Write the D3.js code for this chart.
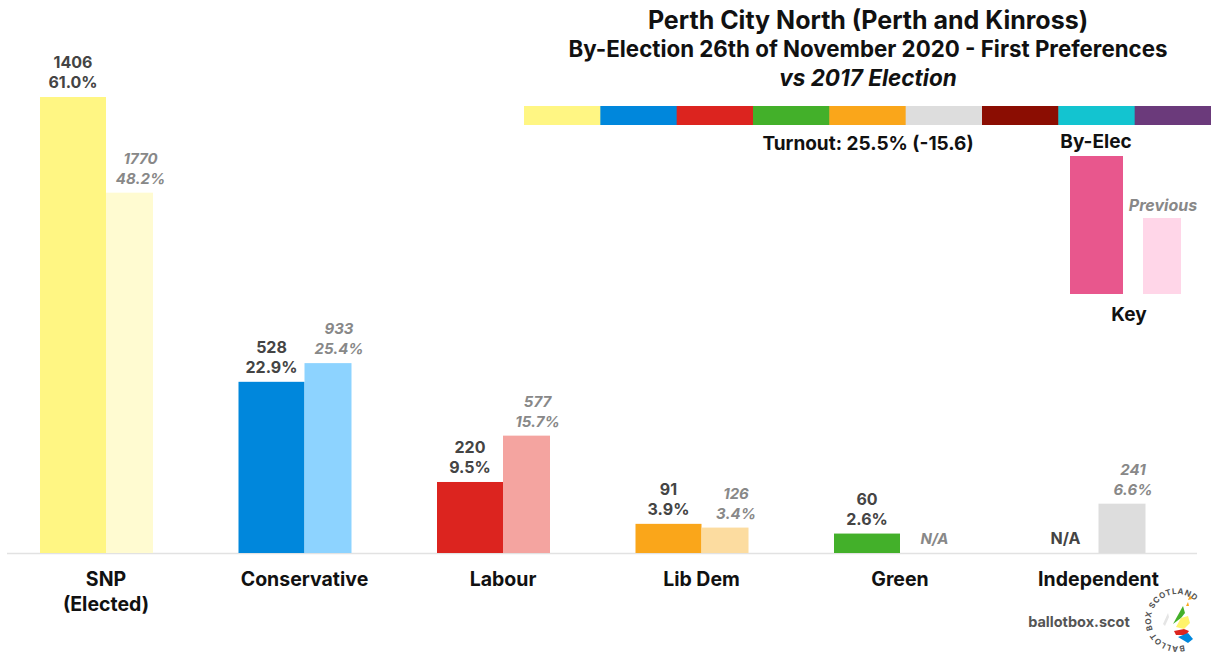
<!DOCTYPE html>
<html>
<head>
<meta charset="utf-8">
<script src="https://cdn.jsdelivr.net/npm/d3@7"></script>
<style>
  body { margin: 0; background: #fff; }
  svg { display: block; }
</style>
</head>
<body>
<svg id="chart" width="1211" height="657"></svg>
<script>
const parties = ["SNP", "Conservative", "Labour", "Lib Dem", "Green", "Independent"];
const byVotes = [1406, 528, 220, 91, 60, null];
const byPct = [61.0, 22.9, 9.5, 3.9, 2.6, null];
const prevVotes = [1770, 933, 577, 126, null, 241];
const prevPct = [48.2, 25.4, 15.7, 3.4, null, 6.6];
const byColours = ["#FFF683", "#0087DC", "#DC241F", "#FAA61A", "#43B02A", "#DDDDDD"];
const prevColours = ["#FFFBD1", "#8DD3FF", "#F4A4A0", "#FCDCA0", "#C6E8BE", "#DDDDDD"];
const stripColours = ["#FFF683", "#0087DC", "#DC241F", "#43B02A", "#FAA61A", "#DDDDDD", "#8B0D02", "#13C4D0", "#6B3A7B"];

const titleFont = "Inter, Roboto, sans-serif";
const labelFont = "Inter, 'Open Sans', sans-serif";

const svg = d3.select("#chart");

const rows = parties.map((p, i) => ({
    party: p, byV: byVotes[i], byP: byPct[i], prevV: prevVotes[i], prevP: prevPct[i],
    col: byColours[i], prevCol: prevColours[i]
}));

const xScale = d3.scaleBand()
    .domain(parties)
    .range([40, 40 + 198.5 * parties.length])
    .padding(0);
const yScale = d3.scaleLinear()
    .domain([0, 61])
    .range([553, 97]);

const byWidth = 66, prevWidth = 47;

// baseline
svg.append("line")
    .attr("x1", 7).attr("x2", 1197)
    .attr("y1", yScale(0) + 0.5).attr("y2", yScale(0) + 0.5)
    .attr("stroke", "#e2e2e2").attr("stroke-width", 1.5);

const groups = svg.selectAll(".party")
    .data(rows)
    .join("g")
    .attr("class", "party")
    .attr("transform", d => `translate(${xScale(d.party)},0)`);

groups.filter(d => d.byP !== null).append("rect")
    .attr("x", 0)
    .attr("width", byWidth)
    .attr("y", d => yScale(d.byP))
    .attr("height", d => yScale(0) - yScale(d.byP))
    .attr("fill", d => d.col);

groups.filter(d => d.prevP !== null).append("rect")
    .attr("x", byWidth)
    .attr("width", prevWidth)
    .attr("y", d => yScale(d.prevP))
    .attr("height", d => yScale(0) - yScale(d.prevP))
    .attr("fill", d => d.prevCol);

// by-election labels
const byLab = groups.append("text")
    .attr("text-anchor", "middle")
    .attr("font-family", labelFont)
    .attr("font-weight", 700)
    .attr("font-size", 16)
    .attr("fill", "#444");
byLab.filter(d => d.byP !== null).each(function(d) {
    const t = d3.select(this);
    const top = yScale(d.byP);
    t.append("tspan").attr("x", byWidth / 2).attr("y", top - 29).text(d.byV);
    t.append("tspan").attr("x", byWidth / 2).attr("y", top - 9).text(d.byP.toFixed(1) + "%");
});
byLab.filter(d => d.byP === null)
    .attr("x", byWidth / 2)
    .attr("y", yScale(0) - 9)
    .text("N/A");

// previous labels, nudged right of the bar centre as in the original
const prevX = byWidth + prevWidth / 2 + 11;
const prevLab = groups.append("text")
    .attr("text-anchor", "middle")
    .attr("font-family", labelFont)
    .attr("font-weight", 700)
    .attr("font-style", "italic")
    .attr("font-size", 15)
    .attr("fill", "#888");
prevLab.filter(d => d.prevP !== null).each(function(d) {
    const t = d3.select(this);
    const top = yScale(d.prevP);
    t.append("tspan").attr("x", prevX).attr("y", top - 29).text(d.prevV);
    t.append("tspan").attr("x", prevX).attr("y", top - 9).text(d.prevP.toFixed(1) + "%");
});
prevLab.filter(d => d.prevP === null)
    .attr("x", prevX)
    .attr("y", yScale(0) - 9)
    .text("N/A");

// category labels
const catLab = groups.append("text")
    .attr("text-anchor", "middle")
    .attr("font-family", labelFont)
    .attr("font-weight", 700)
    .attr("font-size", 19.5)
    .attr("fill", "#111");
catLab.append("tspan").attr("x", byWidth).attr("y", 586).text(d => d.party);
catLab.filter(d => d.party === "SNP")
    .append("tspan").attr("x", byWidth).attr("y", 611).text("(Elected)");

// titles
const titles = [
    { text: "Perth City North (Perth and Kinross)", y: 29, size: 25, style: "normal" },
    { text: "By-Election 26th of November 2020 - First Preferences", y: 57, size: 22.3, style: "normal" },
    { text: "vs 2017 Election", y: 86, size: 22.5, style: "italic" }
];
svg.selectAll(".title")
    .data(titles)
    .join("text")
    .attr("class", "title")
    .attr("x", 868)
    .attr("y", d => d.y)
    .attr("text-anchor", "middle")
    .attr("font-family", titleFont)
    .attr("font-weight", 700)
    .attr("font-size", d => d.size)
    .attr("font-style", d => d.style)
    .attr("fill", "#111")
    .text(d => d.text);

// colour strip
const stripX = d3.scaleBand()
    .domain(d3.range(stripColours.length))
    .range([524, 1211]);
svg.selectAll(".strip")
    .data(stripColours)
    .join("rect")
    .attr("class", "strip")
    .attr("x", (d, i) => stripX(i))
    .attr("y", 106)
    .attr("width", stripX.bandwidth() + 0.5)
    .attr("height", 19)
    .attr("fill", d => d);

svg.append("text")
    .attr("x", 868).attr("y", 150)
    .attr("text-anchor", "middle")
    .attr("font-family", titleFont)
    .attr("font-weight", 700)
    .attr("font-size", 19)
    .attr("fill", "#111")
    .text("Turnout: 25.5% (-15.6)");

// key
const key = svg.append("g");
key.append("text")
    .attr("x", 1096).attr("y", 148)
    .attr("text-anchor", "middle")
    .attr("font-family", titleFont)
    .attr("font-weight", 700)
    .attr("font-size", 19)
    .attr("fill", "#111")
    .text("By-Elec");
key.append("rect")
    .attr("x", 1070).attr("y", 156).attr("width", 53).attr("height", 138)
    .attr("fill", "#E8578D");
key.append("rect")
    .attr("x", 1143).attr("y", 218).attr("width", 38).attr("height", 76)
    .attr("fill", "#FFD6E8");
key.append("text")
    .attr("x", 1163).attr("y", 211)
    .attr("text-anchor", "middle")
    .attr("font-family", labelFont)
    .attr("font-weight", 700)
    .attr("font-style", "italic")
    .attr("font-size", 16)
    .attr("fill", "#888")
    .text("Previous");
key.append("text")
    .attr("x", 1129).attr("y", 321)
    .attr("text-anchor", "middle")
    .attr("font-family", labelFont)
    .attr("font-weight", 700)
    .attr("font-size", 19)
    .attr("fill", "#111")
    .text("Key");

// watermark
svg.append("text")
    .attr("x", 1079).attr("y", 627)
    .attr("text-anchor", "middle")
    .attr("font-family", labelFont)
    .attr("font-weight", 700)
    .attr("font-size", 14.5)
    .attr("fill", "#555")
    .text("ballotbox.scot");

// logo
const logo = svg.append("g").attr("transform", "translate(1177,620)");
logo.append("defs").append("path")
    .attr("id", "logoArc")
    .attr("d", "M 7,25 A 26,26 0 1 1 24,-10");
logo.append("text")
    .attr("font-family", labelFont)
    .attr("font-weight", 700)
    .attr("font-size", 8)
    .attr("letter-spacing", 0.6)
    .attr("fill", "#555")
    .append("textPath")
    .attr("href", "#logoArc")
    .text("BALLOT BOX SCOTLAND");
const shapes = [
    { d: "M -4,4 L 6,-14 L 8,-7 L 4,-2 Z", fill: "#43B02A" },
    { d: "M -1,7 L 4,-2 L 11,-4 L 13,3 L 7,9 Z", fill: "#FFF36B" },
    { d: "M -3,11 L 7,9 L 12,11 L 9,15 L -1,15 Z", fill: "#DC241F" },
    { d: "M 1,17 L 11,13 L 16,19 L 11,23 Z", fill: "#0087DC" },
    { d: "M 11,-20 L 13,-25 L 15,-21 Z", fill: "#FAA61A" },
    { d: "M 9,-14 L 11,-18 L 12,-14 Z", fill: "#FAA61A" },
    { d: "M -14,4 L -9,-7 L -8,-3 L -12,6 Z", fill: "#e5e5e5" }
];
logo.selectAll(".shape")
    .data(shapes)
    .join("path")
    .attr("class", "shape")
    .attr("d", d => d.d)
    .attr("fill", d => d.fill);
</script>
</body>
</html>
